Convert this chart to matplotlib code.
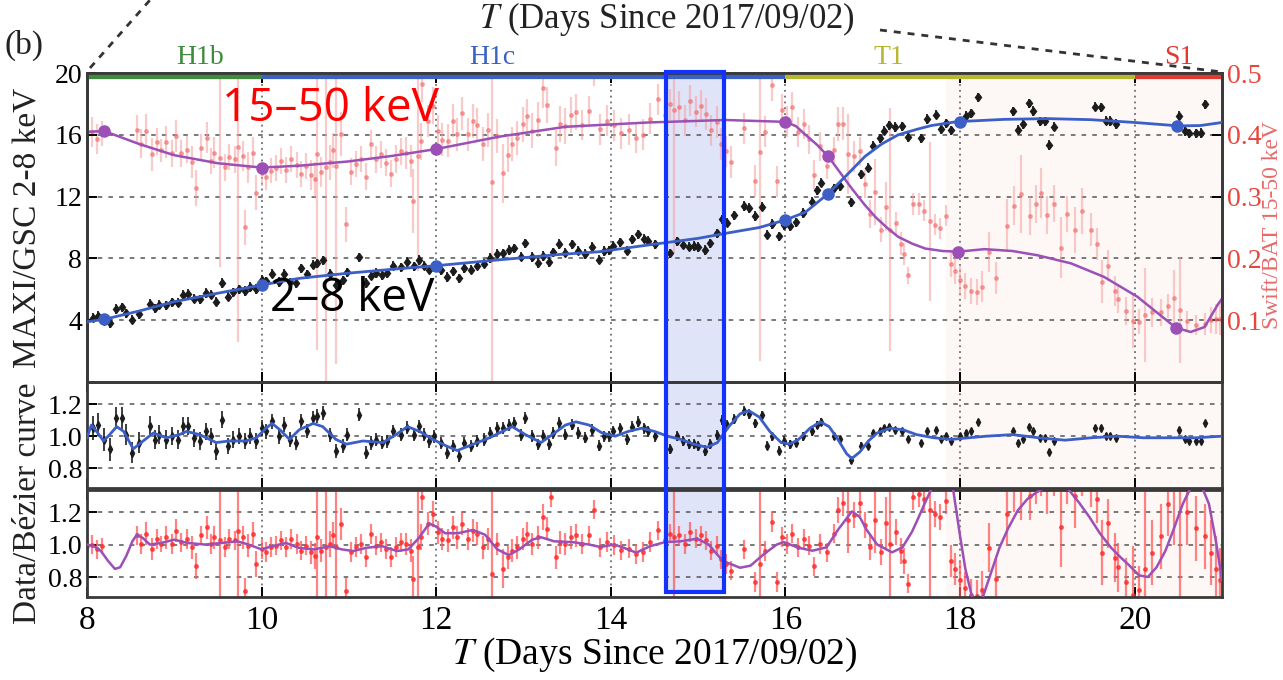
import numpy as np
import matplotlib.pyplot as plt
from matplotlib.patches import Rectangle
from matplotlib.lines import Line2D
from matplotlib.transforms import blended_transform_factory

plt.rcParams['font.family'] = ['Liberation Serif', 'DejaVu Serif']
plt.rcParams['mathtext.fontset'] = 'stix'

# ---- MAXI/GSC 2-8 keV: Bezier model curve and its control points ----
gsc_curve_t = [8.0, 8.2, 8.6, 9.0, 9.5, 10.0, 10.43, 11.0, 11.5, 12.0, 12.7, 13.4, 13.86, 14.43,
               15.0, 15.31, 15.7, 16.0, 16.23, 16.49, 16.72, 16.91, 17.1, 17.29, 17.5, 17.67,
               17.96, 18.5, 19.0, 19.5, 20.0, 20.5, 20.75, 21.0]
gsc_curve = [3.9, 4.06, 4.6, 5.2, 5.75, 6.28, 6.71, 7.05, 7.3, 7.53, 7.9, 8.25, 8.43, 8.87,
             9.3, 9.62, 10.0, 10.49, 11.0, 12.2, 13.5, 14.6, 15.4, 16.0, 16.35, 16.6,
             16.85, 17.0, 17.05, 16.98, 16.8, 16.58, 16.6, 16.8]
gsc_ctrl_t = [8.2, 10.0, 12.0, 16.0, 16.49, 18.0, 20.48]
gsc_ctrl = [4.06, 6.28, 7.53, 10.49, 12.2, 16.85, 16.58]

# ---- Swift/BAT 15-50 keV: Bezier model curve and its control points ----
bat_curve_t = [8.0, 8.2, 8.6, 9.0, 9.5, 10.0, 10.43, 11.0, 11.5, 12.0, 12.72, 13.48, 14.43, 15.31,
               16.0, 16.12, 16.23, 16.36, 16.49, 16.62, 16.76, 16.9, 17.03, 17.16, 17.29, 17.45,
               17.6, 17.8, 17.98, 18.28, 18.6, 18.89, 19.27, 19.65, 20.03, 20.25, 20.47, 20.64,
               20.8, 20.95, 21.0]
bat_curve = [0.405, 0.406, 0.385, 0.367, 0.354, 0.347, 0.350, 0.357, 0.366, 0.377, 0.397, 0.413,
             0.420, 0.424, 0.421, 0.414, 0.400, 0.384, 0.365, 0.340, 0.313, 0.288, 0.267, 0.250,
             0.235, 0.224, 0.216, 0.212, 0.211, 0.215, 0.212, 0.205, 0.192, 0.170, 0.138, 0.113,
             0.088, 0.081, 0.089, 0.125, 0.135]
bat_ctrl_t = [8.2, 10.0, 12.0, 16.0, 16.49, 17.98, 20.47]
bat_ctrl = [0.406, 0.347, 0.377, 0.421, 0.365, 0.211, 0.088]

# ---- GSC data / Bezier curve ----
gsc_t = [8.07, 8.13, 8.19, 8.26, 8.33, 8.40, 8.45, 8.52, 8.59, 8.72, 8.78, 8.83, 8.91, 8.97,
         9.04, 9.10, 9.16, 9.23, 9.29, 9.36, 9.42, 9.48, 9.55, 9.62, 9.67, 9.74, 9.81, 9.87,
         9.93, 10.00, 10.05, 10.12, 10.20, 10.26, 10.32, 10.39, 10.45, 10.52, 10.59, 10.64,
         10.70, 10.78, 10.85, 10.93, 10.98, 11.11, 11.19, 11.25, 11.31, 11.38, 11.44, 11.50,
         11.60, 11.67, 11.74, 11.80, 11.86, 11.92, 11.98, 12.05, 12.12, 12.19, 12.26, 12.32,
         12.40, 12.47, 12.55, 12.62, 12.70, 12.76, 12.83, 12.89, 12.97, 13.02, 13.10, 13.16,
         13.22, 13.29, 13.34, 13.41, 13.48, 13.56, 13.62, 13.70, 13.78, 13.86, 13.92, 13.98,
         14.03, 14.11, 14.19, 14.24, 14.31, 14.38, 14.43, 14.50, 14.68, 14.76, 14.83, 14.89,
         14.95, 15.00, 15.08, 15.14, 15.22, 15.27, 15.33, 15.41, 15.52, 15.58, 15.65, 15.73,
         15.79, 15.84, 15.92, 15.98, 16.05, 16.12, 16.20, 16.30, 16.36, 16.41, 16.55, 16.62,
         16.75, 16.86, 16.95, 17.00, 17.08, 17.13, 17.19, 17.25, 17.33, 17.40, 17.55, 17.62,
         17.72, 17.78, 17.84, 17.90, 18.00, 18.07, 18.13, 18.20, 18.61, 18.66, 18.72, 18.79,
         18.84, 18.92, 18.97, 19.02, 19.08, 19.55, 19.61, 19.67, 19.72, 19.79, 20.51, 20.57,
         20.62, 20.70, 20.76, 20.81]
gsc_ratio = [1.052, 1.073, 0.979, 0.917, 1.115, 1.115, 1.010, 0.896, 0.958, 1.063, 0.979, 1.010,
             0.979, 1.000, 0.979, 1.063, 1.063, 0.990, 0.969, 1.031, 1.000, 0.906, 1.104, 0.938,
             0.979, 1.000, 0.969, 1.000, 0.969, 1.052, 1.031, 1.094, 1.000, 1.073, 0.979, 0.958,
             1.094, 1.031, 1.115, 1.125, 1.146, 1.010, 0.906, 0.938, 1.010, 1.135, 0.896, 0.958,
             0.979, 0.958, 0.969, 1.031, 1.010, 1.052, 1.010, 1.063, 1.010, 0.969, 1.000, 0.958,
             0.896, 0.938, 0.875, 0.958, 0.938, 0.969, 0.979, 1.021, 1.052, 1.052, 1.073, 1.083,
             1.010, 1.115, 1.000, 0.948, 1.000, 0.948, 1.021, 1.083, 1.010, 1.073, 1.02, 0.99,
             1.04, 0.94, 1.00, 1.00, 1.03, 1.05, 0.98, 1.06, 1.09, 1.05, 1.03, 1.00, 0.92, 1.00,
             0.97, 0.95, 0.95, 0.94, 0.91, 0.95, 1.01, 1.10, 1.07, 1.11, 1.16, 1.14, 1.08, 1.13,
             0.94, 1.00, 0.91, 0.97, 0.95, 0.96, 1.00, 1.03, 1.07, 1.09, 1.00, 0.98, 0.85, 0.94,
             0.94, 1.02, 1.03, 1.05, 1.06, 1.04, 1.03, 0.98, 0.96, 1.03, 1.04, 0.98, 1.00, 0.97,
             1.00, 1.02, 1.03, 1.09, 1.03, 0.96, 0.98, 1.06, 1.03, 0.99, 0.99, 0.90, 0.97, 1.05,
             1.05, 1.00, 1.00, 0.99, 1.04, 0.98, 0.97, 0.97, 0.97, 1.08]
gsc_flux_err = 0.3

gsc_fit_t = [8.0, 8.05, 8.11, 8.19, 8.26, 8.34, 8.42, 8.53, 8.62, 8.76, 8.91, 9.06, 9.14, 9.29,
             9.48, 9.63, 9.82, 9.94, 10.05, 10.12, 10.21, 10.32, 10.43, 10.59, 10.70, 10.85,
             10.97, 11.16, 11.39, 11.54, 11.67, 11.81, 11.96, 12.11, 12.24, 12.38, 12.61, 12.87,
             13.02, 13.20, 13.33, 13.48, 13.60, 13.75, 13.9, 14.05, 14.2, 14.35, 14.5, 14.65,
             14.8, 14.95, 15.1, 15.22, 15.35, 15.48, 15.58, 15.7, 15.82, 15.95, 16.05, 16.15,
             16.28, 16.4, 16.5, 16.6, 16.7, 16.76, 16.85, 16.95, 17.05, 17.2, 17.35, 17.5, 17.7,
             17.9, 18.1, 18.3, 18.6, 18.9, 19.2, 19.5, 19.8, 20.1, 20.4, 20.7, 21.0]
gsc_fit = [0.99, 1.07, 1.03, 0.97, 1.01, 1.06, 1.03, 0.92, 0.96, 1.02, 0.99, 1.01, 1.03, 1.01,
           0.96, 0.97, 0.97, 0.99, 1.05, 1.08, 1.04, 0.98, 1.04, 1.08, 1.06, 0.98, 0.95, 0.97,
           0.96, 1.01, 1.06, 1.03, 0.98, 0.94, 0.91, 0.94, 0.99, 1.06, 1.01, 0.96, 1.01, 1.07,
           1.09, 1.07, 1.02, 1.00, 1.03, 1.05, 1.03, 1.00, 0.98, 0.95, 0.93, 0.96, 1.06, 1.14,
           1.16, 1.12, 1.03, 0.96, 0.95, 0.98, 1.05, 1.09, 1.06, 0.98, 0.89, 0.86, 0.90, 0.97,
           1.02, 1.05, 1.04, 1.01, 0.99, 0.98, 0.99, 1.00, 1.01, 0.99, 0.975, 0.99, 1.00, 0.99,
           0.99, 0.99, 1.00]

# ---- BAT data / Bezier curve ----
bat_t = [8.00, 8.06, 8.11, 8.17, 8.57, 8.62, 8.68, 8.74, 8.80, 8.85, 8.91, 8.97, 9.02, 9.08,
         9.14, 9.20, 9.25, 9.31, 9.37, 9.42, 9.46, 9.52, 9.58, 9.63, 9.69, 9.73, 9.79, 9.81,
         9.84, 9.90, 9.94, 10.00, 10.05, 10.11, 10.17, 10.22, 10.28, 10.34, 10.40, 10.45,
         10.51, 10.57, 10.61, 10.64, 10.68, 10.74, 10.78, 10.82, 10.85, 10.91, 10.97, 11.02,
         11.08, 11.14, 11.20, 11.25, 11.31, 11.37, 11.42, 11.48, 11.54, 11.60, 11.65, 11.71,
         11.73, 11.79, 11.82, 11.84, 11.90, 11.96, 12.02, 12.07, 12.13, 12.19, 12.24, 12.30,
         12.36, 12.42, 12.47, 12.53, 12.59, 12.64, 12.70, 12.76, 12.82, 12.87, 12.93, 12.99,
         13.04, 13.10, 13.16, 13.22, 13.27, 13.31, 13.37, 13.42, 13.48, 13.54, 13.60, 13.67,
         13.75, 13.81, 13.88, 13.96, 14.04, 14.12, 14.21, 14.29, 14.37, 14.45, 14.54, 14.62,
         14.68, 14.72, 14.78, 14.85, 14.91, 14.97, 15.03, 15.09, 15.15, 15.22, 15.26, 15.32,
         15.38, 15.53, 15.65, 15.71, 15.77, 15.84, 15.90, 15.96, 16.02, 16.08, 16.14, 16.21,
         16.27, 16.33, 16.39, 16.47, 16.56, 16.60, 16.66, 16.72, 16.78, 16.85, 16.91, 16.97,
         17.03, 17.09, 17.15, 17.20, 17.26, 17.32, 17.36, 17.40, 17.46, 17.53, 17.59, 17.65,
         17.71, 17.77, 17.84, 17.90, 17.94, 18.00, 18.06, 18.12, 18.19, 18.25, 18.33, 18.41,
         18.54, 18.62, 18.70, 18.80, 18.87, 18.93, 18.99, 19.07, 19.15, 19.22, 19.32, 19.40,
         19.50, 19.57, 19.63, 19.69, 19.77, 19.81, 19.90, 19.98, 20.05, 20.12, 20.20, 20.30,
         20.38, 20.45, 20.52, 20.60, 20.70, 20.80, 20.87, 20.93, 20.98]
bat_ratio = [0.99, 1.00, 0.97, 0.99, 1.056, 1.004, 1.066, 0.973, 1.035, 1.004, 1.045, 1.004,
             1.086, 1.014, 1.035, 0.984, 0.870, 1.056, 1.107, 1.004, 1.045, 1.025, 0.984, 1.035,
             1.025, 1.086, 1.045, 0.716, 0.994, 1.066, 0.881, 0.973, 0.953, 0.984, 0.994, 1.025,
             0.984, 1.035, 1.004, 0.963, 0.994, 0.953, 0.932, 1.045, 0.963, 0.984, 1.004, 1.056,
             0.984, 1.128, 0.716, 0.953, 0.984, 1.004, 0.922, 1.066, 0.994, 1.014, 0.973, 0.922,
             0.984, 1.014, 1.004, 0.963, 0.788, 0.984, 1.045, 1.292, 1.128, 1.189, 1.076, 1.035,
             1.025, 1.107, 1.045, 1.128, 1.035, 1.086, 1.066, 0.984, 1.035, 0.819, 1.004, 0.850,
             0.922, 0.963, 0.984, 1.035, 1.066, 1.004, 1.045, 1.169, 1.097, 1.292, 0.922, 1.014,
             1.004, 1.045, 1.056, 1.004, 1.057, 1.215, 0.983, 1.015, 0.996, 0.964, 0.975, 0.943,
             0.954, 1.015, 1.088, 1.025, 1.067, 1.046, 1.057, 1.004, 1.078, 1.036, 1.057, 1.025,
             0.962, 0.994, 0.909, 0.880, 0.840, 0.970, 0.770, 0.880, 0.960, 1.140, 0.770, 1.046,
             1.004, 1.067, 0.983, 1.036, 0.994, 0.865, 1.004, 0.952, 1.067, 1.215, 1.257, 1.150,
             1.180, 1.257, 1.120, 0.983, 1.150, 0.952, 1.130, 1.004, 1.076, 0.962, 0.900, 0.760,
             1.290, 1.310, 1.280, 1.210, 1.190, 1.170, 1.270, 0.90, 0.85, 0.78, 0.73, 0.69, 0.68,
             0.72, 0.98, 0.79, 1.19, 1.35, 1.45, 1.30, 1.40, 1.50, 1.34, 1.45, 1.11, 1.40, 1.30,
             1.50, 1.38, 1.28, 0.95, 1.13, 0.92, 0.86, 0.77, 0.69, 0.72, 0.85, 0.95, 1.05, 1.25,
             1.50, 1.35, 1.20, 1.10, 1.05, 0.95, 0.85, 0.78]
bat_ratio_err = [0.05, 0.06, 0.06, 0.05, 0.06, 0.06, 0.07, 0.07, 0.06, 0.05, 0.07, 0.06, 0.07,
                 0.06, 0.06, 0.07, 0.08, 0.06, 0.07, 0.06, 0.07, 0.50, 0.06, 0.06, 0.06, 0.90,
                 0.07, 0.08, 0.07, 0.07, 0.08, 0.06, 0.06, 0.06, 0.06, 0.06, 0.06, 0.06, 0.06,
                 0.06, 0.06, 0.07, 0.08, 0.90, 0.07, 1.00, 0.08, 0.08, 0.90, 0.10, 0.08, 0.06,
                 0.06, 0.06, 0.06, 0.06, 0.06, 0.06, 0.06, 0.06, 0.06, 0.06, 0.07, 0.07, 0.14,
                 0.50, 0.08, 0.08, 0.07, 0.08, 0.07, 0.07, 0.07, 0.07, 0.07, 0.07, 0.07, 0.07,
                 0.07, 0.07, 0.07, 0.90, 0.07, 0.12, 0.07, 0.07, 0.07, 0.07, 0.07, 0.07, 0.07,
                 0.08, 0.07, 0.06, 0.07, 0.07, 0.07, 0.07, 0.07, 0.06, 0.06, 0.06, 0.06, 0.06,
                 0.06, 0.06, 0.06, 0.06, 0.06, 0.06, 0.06, 0.06, 0.06, 0.55, 0.06, 0.06, 0.06,
                 0.06, 0.06, 0.06, 0.06, 0.06, 0.06, 0.06, 0.06, 0.06, 0.06, 0.80, 0.06, 0.06,
                 0.06, 0.06, 0.06, 0.06, 0.06, 0.06, 0.06, 0.06, 0.06, 0.06, 0.06, 0.08, 0.08,
                 0.20, 0.08, 0.08, 0.08, 0.08, 0.20, 0.08, 0.16, 0.80, 0.08, 0.08, 0.08, 0.06,
                 0.08, 0.08, 0.08, 0.60, 0.08, 0.08, 0.08, 0.10, 0.10, 0.12, 0.10, 0.10, 0.10,
                 0.12, 0.15, 0.12, 0.20, 0.15, 0.30, 0.15, 0.15, 0.20, 0.15, 0.15, 0.25, 0.15,
                 0.20, 0.20, 0.15, 0.15, 0.20, 0.15, 0.15, 0.15, 0.15, 0.30, 0.15, 0.60, 0.20,
                 0.20, 0.20, 0.50, 1.00, 0.20, 0.20, 0.20, 0.20, 0.20, 0.20]

bat_fit_t = [8.0, 8.08, 8.16, 8.24, 8.32, 8.38, 8.45, 8.52, 8.57, 8.64, 8.72, 8.85, 9.0, 9.15,
             9.35, 9.55, 9.72, 9.85, 10.0, 10.12, 10.28, 10.42, 10.6, 10.78, 10.92, 11.05, 11.2,
             11.38, 11.55, 11.68, 11.8, 11.92, 12.0, 12.1, 12.25, 12.42, 12.56, 12.7, 12.83,
             12.95, 13.1, 13.2, 13.35, 13.56, 13.75, 13.88, 14.04, 14.15, 14.29, 14.45, 14.62,
             14.8, 14.99, 15.12, 15.28, 15.48, 15.6, 15.75, 15.9, 15.98, 16.15, 16.31, 16.47,
             16.6, 16.76, 16.85, 16.93, 17.05, 17.22, 17.34, 17.45, 17.51, 17.6, 17.67, 17.72,
             17.8, 17.88, 17.92, 18.0, 18.06, 18.14, 18.2, 18.25, 18.35, 18.45, 18.55, 18.66,
             18.77, 18.87, 19.0, 19.12, 19.24, 19.36, 19.48, 19.6, 19.73, 19.84, 19.94, 20.05,
             20.15, 20.25, 20.35, 20.45, 20.55, 20.65, 20.75, 20.85, 20.93, 21.0]
bat_fit = [1.0, 0.99, 0.96, 0.90, 0.85, 0.86, 0.93, 1.02, 1.06, 1.04, 1.0, 1.01, 1.03, 1.01,
           1.0, 1.01, 1.02, 1.0, 0.97, 0.99, 1.01, 0.98, 0.97, 0.99, 0.97, 0.96, 0.98, 0.99,
           0.96, 0.97, 1.04, 1.13, 1.11, 1.07, 1.07, 1.09, 1.06, 0.97, 0.935, 0.97, 1.03, 1.045,
           1.02, 1.015, 1.0, 0.985, 1.0, 0.98, 0.95, 0.99, 1.015, 1.02, 1.036, 1.0, 0.90, 0.857,
           0.87, 0.94, 1.0, 1.015, 0.98, 0.962, 0.983, 1.09, 1.204, 1.17, 1.09, 1.0, 0.952,
           0.983, 1.08, 1.15, 1.26, 1.34, 1.42, 1.55, 1.45, 1.34, 1.05, 0.85, 0.67, 0.62, 0.66,
           0.82, 0.98, 1.10, 1.21, 1.28, 1.32, 1.36, 1.36, 1.34, 1.26, 1.17, 1.07, 0.98, 0.92,
           0.87, 0.81, 0.80, 0.86, 0.96, 1.10, 1.25, 1.36, 1.38, 1.25, 1.02, 0.78]

# spectral state intervals along the top
phase_names = ['H1b', 'H1c', 'T1', 'S1']
phase_start = [8, 10, 16, 20]
phase_end = [10, 16, 20, 21]
phase_colors = ['#3d8b3d', '#3b62bf', '#b7b832', '#e23a30']

gsc_t = np.array(gsc_t)
gsc_ratio = np.array(gsc_ratio)
gsc_model = np.interp(gsc_t, gsc_curve_t, gsc_curve)
gsc_flux = gsc_ratio * gsc_model

bat_t = np.array(bat_t)
bat_ratio = np.array(bat_ratio)
bat_ratio_err = np.array(bat_ratio_err)
bat_model = np.interp(bat_t, bat_curve_t, bat_curve)
bat_rate = bat_ratio * bat_model
bat_rate_err = bat_ratio_err * bat_model

BLUE = '#3b5fc6'
PURPLE = '#9c4fb6'
BLACK = '#1c1c1c'
SPINE = '#3a3a3a'

fig = plt.figure(figsize=(12.83, 6.8), dpi=100)
left, right = 0.0678, 0.9525
ax1 = fig.add_axes([left, 0.4382, right - left, 0.4544])
ax2 = fig.add_axes([left, 0.2824, right - left, 0.1558], sharex=ax1)
ax3 = fig.add_axes([left, 0.1221, right - left, 0.1573], sharex=ax1)
axg = ax1.twinx()

for ax in (ax1, ax2, ax3):
    ax.axvspan(17.84, 21, color='#fdf8f5', zorder=0, lw=0)
    ax.axvspan(14.63, 15.30, ymin=0.045 if ax is ax3 else 0, color='#dfe4f8', zorder=0, lw=0)
    ax.grid(axis='y', ls=(0, (3, 4)), color='#555555', lw=1.1)
    ax.grid(axis='x', ls=(0, (1.2, 2.6)), color='#555555', lw=1.1)
    for s in ax.spines.values():
        s.set_color(SPINE)
        s.set_linewidth(2)
    ax.tick_params(direction='in', length=7, width=1.4, top=True, labelsize=20)
    ax.tick_params(axis='x', labelsize=24, pad=6)

# top panel: BAT on the host axes (right scale), GSC on the twin (left scale)
ax1.errorbar(bat_t, bat_rate, yerr=bat_rate_err, fmt='o', ms=2.5, color='#f26a6a',
             ecolor='#f5a0a0', elinewidth=1.6, capsize=0, alpha=0.55, zorder=2)
ax1.plot(bat_curve_t, bat_curve, color=PURPLE, lw=1.8, zorder=3)
ax1.plot(bat_ctrl_t, bat_ctrl, 'o', ms=8, color=PURPLE, zorder=4)
ax1.set_ylim(0, 0.5)
ax1.set_yticks([0.1, 0.2, 0.3, 0.4, 0.5])
ax1.yaxis.tick_right()
ax1.tick_params(axis='y', labelcolor='#e8463c', left=False, right=True)
ax1.tick_params(axis='x', labelbottom=False)

axg.errorbar(gsc_t, gsc_flux, yerr=gsc_flux_err, fmt='d', ms=4.5, color=BLACK,
             ecolor=BLACK, elinewidth=1.3, capsize=0, zorder=3)
axg.plot(gsc_curve_t, gsc_curve, color=BLUE, lw=2, zorder=4)
axg.plot(gsc_ctrl_t, gsc_ctrl, 'o', ms=8, color=BLUE, zorder=5)
axg.set_ylim(0, 20)
axg.set_yticks([4, 8, 12, 16, 20])
axg.yaxis.tick_left()
axg.tick_params(axis='y', direction='in', length=7, width=1.4, labelsize=20, right=False)
for s in axg.spines.values():
    s.set_color(SPINE)
    s.set_linewidth(2)

ax1.set_xlim(8, 21)
ax1.set_xticks([8, 10, 12, 14, 16, 18, 20])

# state bars and names above the top panel
xa = ax1.get_xaxis_transform()
phase_label_x = [9.3, 12.64, 17.18, 20.5]
for name, x0, x1, c, xl in zip(phase_names, phase_start, phase_end, phase_colors, phase_label_x):
    ax1.plot([x0, x1], [0.99, 0.99], color=c, lw=4.5, transform=xa,
             solid_capstyle='butt', clip_on=False, zorder=6)
    ax1.text(xl, 1.05, name, transform=xa, ha='center', va='center', fontsize=20, color=c)

axg.text(0.119, 0.885, '15\u201350 keV', transform=axg.transAxes, color='#ff0000',
         fontsize=33, family='Open Sans', va='center', ha='left', zorder=10)
axg.text(0.161, 0.27, '2\u20138 keV', transform=axg.transAxes, color='black',
         fontsize=33, family='Open Sans', va='center', ha='left', zorder=10)

# middle panel: GSC ratio
ax2.errorbar(gsc_t, gsc_ratio, yerr=gsc_flux_err / gsc_model, fmt='d', ms=4, color=BLACK,
             ecolor=BLACK, elinewidth=1.2, capsize=0, zorder=3)
ax2.plot(gsc_fit_t, gsc_fit, color=BLUE, lw=2, zorder=4)
ax2.set_ylim(0.675, 1.34)
ax2.set_yticks([0.8, 1.0, 1.2])
ax2.tick_params(axis='x', labelbottom=False)

# bottom panel: BAT ratio
ax3.errorbar(bat_t, bat_ratio, yerr=bat_ratio_err, fmt='o', ms=2.5, color='#ff2a2a',
             ecolor='#ff5a5a', elinewidth=1.6, capsize=0, alpha=0.75, zorder=2)
ax3.plot(bat_fit_t, bat_fit, color=PURPLE, lw=1.8, zorder=4)
ax3.set_ylim(0.677, 1.336)
ax3.set_yticks([0.8, 1.0, 1.2])
ax3.set_xlabel('$T$ (Days Since 2017/09/02)', fontsize=27, labelpad=0)

# highlighted interval spanning all three panels
bt = blended_transform_factory(ax1.transData, fig.transFigure)
fig.add_artist(Rectangle((14.63, 1 - 592 / 680), 0.67, 520 / 680, transform=bt,
                         fill=False, ec='#1432ff', lw=3, zorder=20))

fig.text(28 / 1283, 1 - 228 / 680, 'MAXI/GSC 2-8 keV', rotation=90, ha='center',
         va='center', fontsize=24, color='#222222')
fig.text(28 / 1283, 1 - 503 / 680, 'Data/Bézier curve', rotation=90, ha='center',
         va='center', fontsize=24, color='#222222')
fig.text(1273 / 1283, 1 - 225 / 680, 'Swift/BAT 15-50 keV', rotation=90, ha='center',
         va='center', fontsize=17, color='#e86a6a')

fig.text(667 / 1283, 1 - 19 / 680, '$T$ (Days Since 2017/09/02)', ha='center', va='center',
         fontsize=25, color='#222222')
fig.text(4 / 1283, 1 - 45 / 680, '(b)', ha='left', va='center', fontsize=24, color='#222222')

fig.add_artist(Line2D([90 / 1283, 150 / 1283], [1 - 68 / 680, 1.0], transform=fig.transFigure,
                      ls=(0, (2.5, 2.5)), color='#333333', lw=2))
fig.add_artist(Line2D([880 / 1283, 1222 / 1283], [1 - 30 / 680, 1 - 72 / 680],
                      transform=fig.transFigure, ls=(0, (2.5, 2.5)), color='#333333', lw=2))

fig.savefig('out.png', dpi=100)
